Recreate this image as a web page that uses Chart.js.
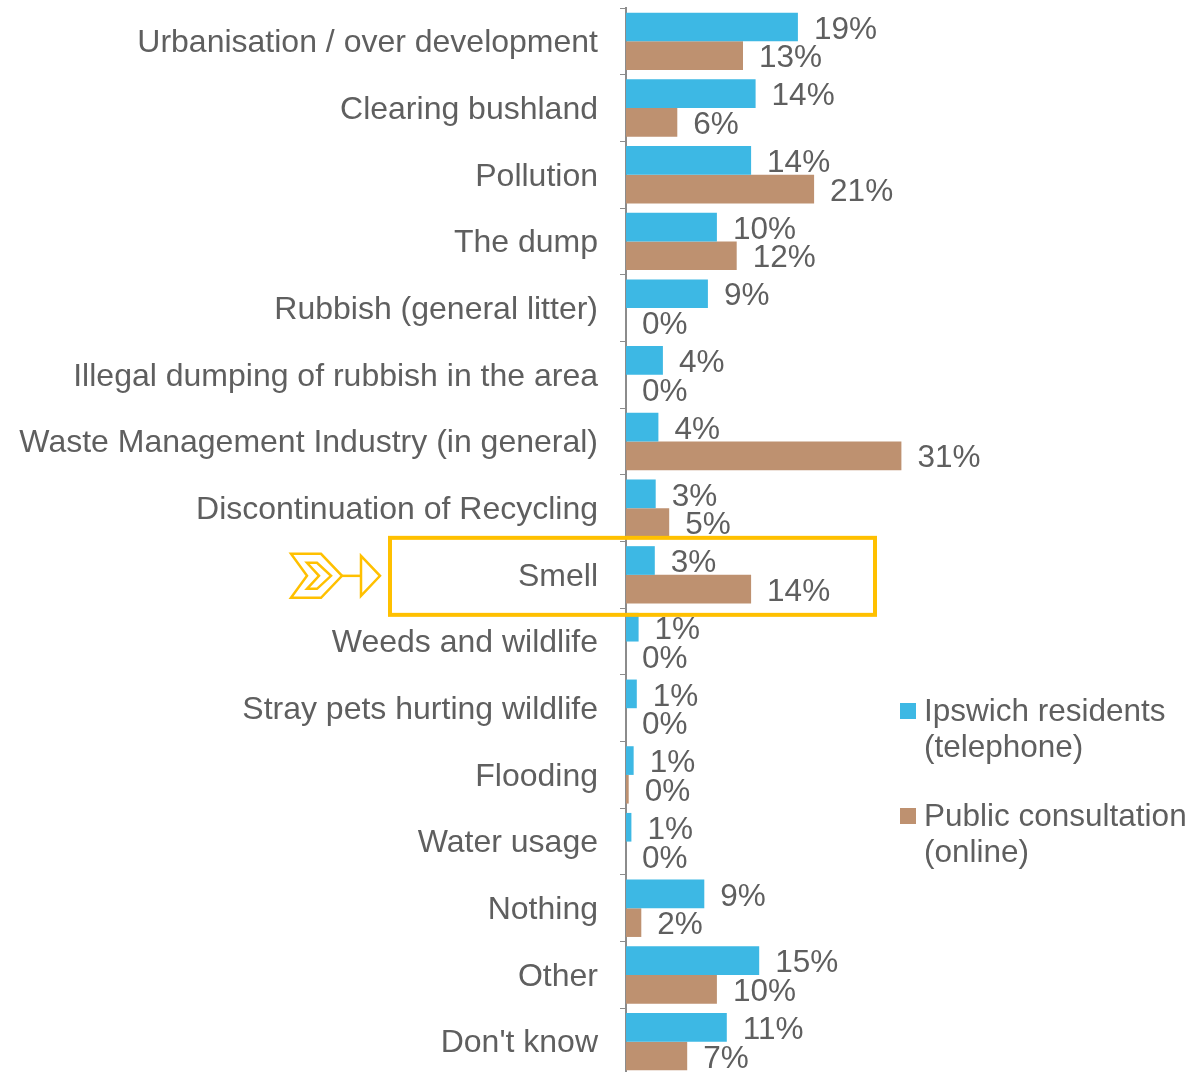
<!doctype html>
<html lang="en">
<head>
  <meta charset="utf-8" />
  <title>Environmental concerns</title>
  <style>
    body { margin: 0; background: #fff; overflow: hidden; }
    #wrap { width: 1202px; height: 1072px; overflow: hidden; }
  </style>
</head>
<body>
  <div id="wrap"><canvas id="lienzo" width="1202" height="1075"></canvas></div>
  <script src="https://cdn.jsdelivr.net/npm/chart.js"></script>
  <script>
    // categories and values (bar lengths, labels rounded)
    const categories = [
      "Urbanisation / over development", "Clearing bushland", "Pollution", "The dump",
      "Rubbish (general litter)", "Illegal dumping of rubbish in the area",
      "Waste Management Industry (in general)", "Discontinuation of Recycling", "Smell",
      "Weeds and wildlife", "Stray pets hurting wildlife", "Flooding", "Water usage",
      "Nothing", "Other", "Don't know"
    ];
    const ipswich = [19.1, 14.4, 13.9, 10.1, 9.1, 4.1, 3.6, 3.3, 3.2, 1.4, 1.2, 0.85, 0.6, 8.7, 14.8, 11.2];
    const online  = [13.0, 5.7, 20.9, 12.3, 0, 0, 30.6, 4.8, 13.9, 0, 0, 0.3, 0, 1.7, 10.1, 6.8];
    const seriesNames = [["Ipswich residents", "(telephone)"], ["Public consultation", "(online)"]];
    const colours = ["#3db8e4", "#be9170"];
    const highlightIndex = 8;

    const FONT = "'Liberation Sans', Arial, sans-serif";
    const SIZE = 31.5;
    const TEXT = "#5f5f5f";

    const labelPlugin = {
      id: "valueLabels",
      afterDatasetsDraw(chart) {
        const ctx = chart.ctx;
        ctx.save();
        ctx.font = SIZE + "px " + FONT;
        ctx.fillStyle = TEXT;
        ctx.textAlign = "left";
        ctx.textBaseline = "middle";
        chart.data.datasets.forEach((ds, di) => {
          chart.getDatasetMeta(di).data.forEach((bar, i) => {
            ctx.fillText(Math.round(ds.data[i]) + "%", bar.x + 16, bar.y + 3);
          });
        });
        ctx.restore();
      }
    };

    const extrasPlugin = {
      id: "extras",
      afterDraw(chart) {
        const ctx = chart.ctx;
        const y = chart.scales.y;
        const cy = y.getPixelForValue(highlightIndex) + 1;
        ctx.save();
        // highlight box
        ctx.strokeStyle = "#ffc000";
        ctx.lineWidth = 4;
        ctx.strokeRect(390, cy - 38, 485, 77);
        // arrow icon
        ctx.lineWidth = 2.5;
        ctx.lineJoin = "miter";
        ctx.beginPath();
        ctx.moveTo(291, cy - 22); ctx.lineTo(321, cy - 22); ctx.lineTo(342, cy);
        ctx.lineTo(321, cy + 22); ctx.lineTo(291, cy + 22); ctx.lineTo(307, cy);
        ctx.closePath();
        ctx.stroke();
        ctx.beginPath();
        ctx.moveTo(307, cy - 13); ctx.lineTo(317, cy - 13); ctx.lineTo(331, cy);
        ctx.lineTo(317, cy + 13); ctx.lineTo(307, cy + 13); ctx.lineTo(319, cy);
        ctx.closePath();
        ctx.stroke();
        ctx.beginPath();
        ctx.moveTo(342, cy); ctx.lineTo(361, cy);
        ctx.stroke();
        ctx.beginPath();
        ctx.moveTo(361, cy - 20); ctx.lineTo(380, cy); ctx.lineTo(361, cy + 20);
        ctx.closePath();
        ctx.stroke();
        // legend
        ctx.font = SIZE + "px " + FONT;
        ctx.textAlign = "left";
        ctx.textBaseline = "middle";
        const starts = [712, 817];
        seriesNames.forEach((lines, k) => {
          ctx.fillStyle = colours[k];
          ctx.fillRect(900, starts[k] - 9, 16, 16);
          ctx.fillStyle = TEXT;
          lines.forEach((t, j) => ctx.fillText(t, 924, starts[k] + j * 36));
        });
        ctx.restore();
      }
    };

    new Chart(document.getElementById("lienzo"), {
      type: "bar",
      data: {
        labels: categories,
        datasets: [
          { label: seriesNames[0].join(" "), data: ipswich, backgroundColor: colours[0] },
          { label: seriesNames[1].join(" "), data: online, backgroundColor: colours[1] }
        ]
      },
      options: {
        indexAxis: "y",
        responsive: false,
        animation: false,
        categoryPercentage: 0.86,
        barPercentage: 1,
        layout: { padding: { top: 8, bottom: 0, right: 261, left: 0 } },
        plugins: { legend: { display: false }, tooltip: { enabled: false } },
        scales: {
          x: { display: false, min: 0, max: 35 },
          y: {
            afterFit(scale) {
              scale.width = 626;
              scale.paddingTop = 0;
              scale.paddingBottom = 0;
            },
            grid: { drawOnChartArea: false, tickLength: 6, color: "#8c8c8c", offset: true },
            border: { color: "#8c8c8c", width: 2 },
            ticks: { padding: 22, labelOffset: 2, color: TEXT, font: { family: FONT, size: 32 }, autoSkip: false }
          }
        }
      },
      plugins: [labelPlugin, extrasPlugin]
    });
  </script>
</body>
</html>
